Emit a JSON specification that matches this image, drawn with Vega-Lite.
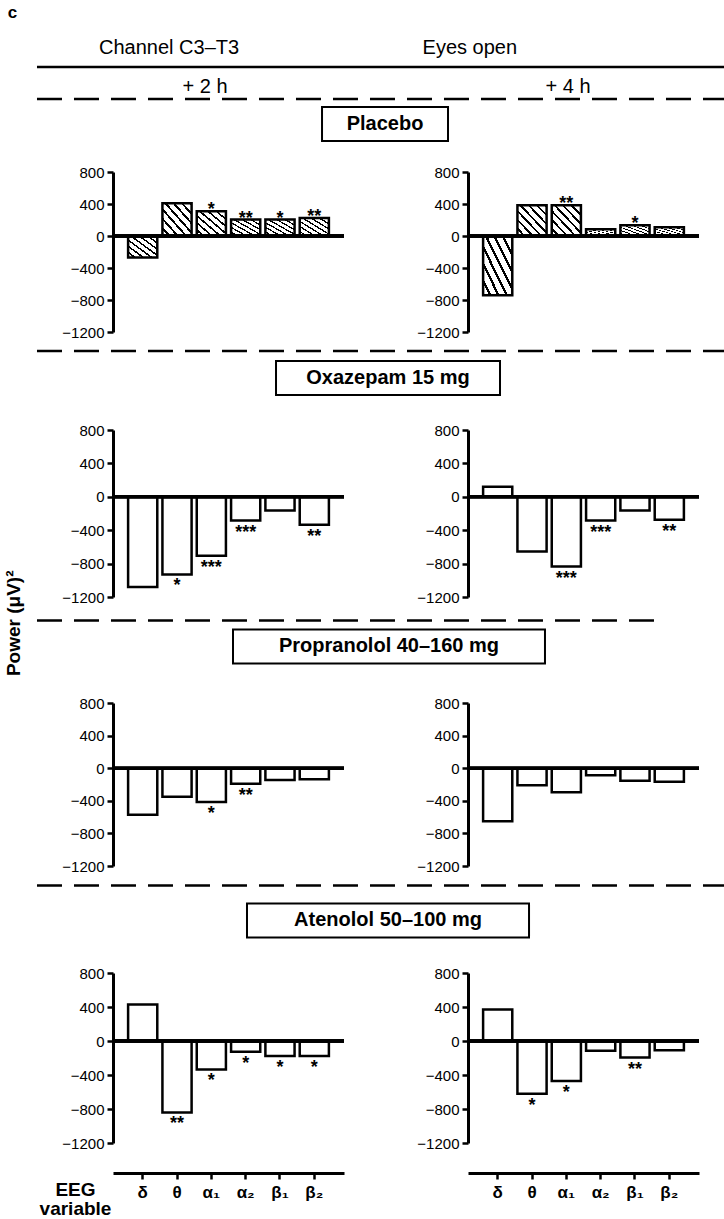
{
"$schema": "https://vega.github.io/schema/vega-lite/v6.json",
"padding": 0,
"background": "white",
"config": {
  "font": "Liberation Sans",
  "view": {"stroke": null},
  "axis": {"domainColor": "black", "tickColor": "black", "labelColor": "black", "titleColor": "black", "grid": false, "labelFont": "Liberation Sans", "titleFont": "Liberation Sans"},
  "axisY": {"domainWidth": 3, "tickWidth": 2.5, "tickSize": 6, "labelFontSize": 15, "labelPadding": 3, "minExtent": 83, "maxExtent": 83}
},
"datasets": {"bars": [
  {"drug": "Placebo", "time": "+2 h", "band": "δ", "value": -270, "sig": ""},
  {"drug": "Placebo", "time": "+2 h", "band": "θ", "value": 410, "sig": ""},
  {"drug": "Placebo", "time": "+2 h", "band": "α₁", "value": 310, "sig": "*"},
  {"drug": "Placebo", "time": "+2 h", "band": "α₂", "value": 205, "sig": "**"},
  {"drug": "Placebo", "time": "+2 h", "band": "β₁", "value": 205, "sig": "*"},
  {"drug": "Placebo", "time": "+2 h", "band": "β₂", "value": 225, "sig": "**"},
  {"drug": "Placebo", "time": "+4 h", "band": "δ", "value": -740, "sig": ""},
  {"drug": "Placebo", "time": "+4 h", "band": "θ", "value": 385, "sig": ""},
  {"drug": "Placebo", "time": "+4 h", "band": "α₁", "value": 385, "sig": "**"},
  {"drug": "Placebo", "time": "+4 h", "band": "α₂", "value": 85, "sig": ""},
  {"drug": "Placebo", "time": "+4 h", "band": "β₁", "value": 135, "sig": "*"},
  {"drug": "Placebo", "time": "+4 h", "band": "β₂", "value": 110, "sig": ""},
  {"drug": "Oxazepam 15 mg", "time": "+2 h", "band": "δ", "value": -1080, "sig": ""},
  {"drug": "Oxazepam 15 mg", "time": "+2 h", "band": "θ", "value": -930, "sig": "*"},
  {"drug": "Oxazepam 15 mg", "time": "+2 h", "band": "α₁", "value": -705, "sig": "***"},
  {"drug": "Oxazepam 15 mg", "time": "+2 h", "band": "α₂", "value": -285, "sig": "***"},
  {"drug": "Oxazepam 15 mg", "time": "+2 h", "band": "β₁", "value": -165, "sig": ""},
  {"drug": "Oxazepam 15 mg", "time": "+2 h", "band": "β₂", "value": -335, "sig": "**"},
  {"drug": "Oxazepam 15 mg", "time": "+4 h", "band": "δ", "value": 120, "sig": ""},
  {"drug": "Oxazepam 15 mg", "time": "+4 h", "band": "θ", "value": -655, "sig": ""},
  {"drug": "Oxazepam 15 mg", "time": "+4 h", "band": "α₁", "value": -835, "sig": "***"},
  {"drug": "Oxazepam 15 mg", "time": "+4 h", "band": "α₂", "value": -285, "sig": "***"},
  {"drug": "Oxazepam 15 mg", "time": "+4 h", "band": "β₁", "value": -165, "sig": ""},
  {"drug": "Oxazepam 15 mg", "time": "+4 h", "band": "β₂", "value": -275, "sig": "**"},
  {"drug": "Propranolol 40–160 mg", "time": "+2 h", "band": "δ", "value": -570, "sig": ""},
  {"drug": "Propranolol 40–160 mg", "time": "+2 h", "band": "θ", "value": -350, "sig": ""},
  {"drug": "Propranolol 40–160 mg", "time": "+2 h", "band": "α₁", "value": -415, "sig": "*"},
  {"drug": "Propranolol 40–160 mg", "time": "+2 h", "band": "α₂", "value": -190, "sig": "**"},
  {"drug": "Propranolol 40–160 mg", "time": "+2 h", "band": "β₁", "value": -145, "sig": ""},
  {"drug": "Propranolol 40–160 mg", "time": "+2 h", "band": "β₂", "value": -135, "sig": ""},
  {"drug": "Propranolol 40–160 mg", "time": "+4 h", "band": "δ", "value": -650, "sig": ""},
  {"drug": "Propranolol 40–160 mg", "time": "+4 h", "band": "θ", "value": -210, "sig": ""},
  {"drug": "Propranolol 40–160 mg", "time": "+4 h", "band": "α₁", "value": -295, "sig": ""},
  {"drug": "Propranolol 40–160 mg", "time": "+4 h", "band": "α₂", "value": -85, "sig": ""},
  {"drug": "Propranolol 40–160 mg", "time": "+4 h", "band": "β₁", "value": -155, "sig": ""},
  {"drug": "Propranolol 40–160 mg", "time": "+4 h", "band": "β₂", "value": -165, "sig": ""},
  {"drug": "Atenolol 50–100 mg", "time": "+2 h", "band": "δ", "value": 430, "sig": ""},
  {"drug": "Atenolol 50–100 mg", "time": "+2 h", "band": "θ", "value": -840, "sig": "**"},
  {"drug": "Atenolol 50–100 mg", "time": "+2 h", "band": "α₁", "value": -335, "sig": "*"},
  {"drug": "Atenolol 50–100 mg", "time": "+2 h", "band": "α₂", "value": -125, "sig": "*"},
  {"drug": "Atenolol 50–100 mg", "time": "+2 h", "band": "β₁", "value": -175, "sig": "*"},
  {"drug": "Atenolol 50–100 mg", "time": "+2 h", "band": "β₂", "value": -175, "sig": "*"},
  {"drug": "Atenolol 50–100 mg", "time": "+4 h", "band": "δ", "value": 370, "sig": ""},
  {"drug": "Atenolol 50–100 mg", "time": "+4 h", "band": "θ", "value": -620, "sig": "*"},
  {"drug": "Atenolol 50–100 mg", "time": "+4 h", "band": "α₁", "value": -470, "sig": "*"},
  {"drug": "Atenolol 50–100 mg", "time": "+4 h", "band": "α₂", "value": -115, "sig": ""},
  {"drug": "Atenolol 50–100 mg", "time": "+4 h", "band": "β₁", "value": -195, "sig": "**"},
  {"drug": "Atenolol 50–100 mg", "time": "+4 h", "band": "β₂", "value": -110, "sig": ""}
]},
"spacing": 0,
"hconcat": [
  {"width": 30, "height": 1215, "data": {"values": [{}]},
   "layer": [
    {"mark": {"type": "text", "text": "c", "fontSize": 17, "fontWeight": "bold", "align": "center", "baseline": "middle"},
     "encoding": {"x": {"datum": 41.7, "type": "quantitative", "scale": {"domain": [0, 100]}, "axis": null},
                  "y": {"datum": 1.07, "type": "quantitative", "scale": {"domain": [0, 100], "reverse": true}, "axis": null}}},
    {"mark": {"type": "text", "text": "Power (μV)²", "fontSize": 19, "fontWeight": "bold", "angle": 270, "align": "center", "baseline": "middle"},
     "encoding": {"x": {"datum": 46.7, "type": "quantitative", "scale": {"domain": [0, 100]}, "axis": null},
                  "y": {"datum": 51.3, "type": "quantitative", "scale": {"domain": [0, 100], "reverse": true}, "axis": null}}}
   ]},
  {"spacing": 0,
   "vconcat": [
    {"width": 611, "height": 165, "data": {"values": [{}]},
     "layer": [
      {"mark": {"type": "text", "text": "Channel C3–T3", "fontSize": 20, "align": "left", "baseline": "middle"},
       "encoding": {"x": {"datum": -2.29, "type": "quantitative", "scale": {"domain": [0, 100]}, "axis": null},
                    "y": {"datum": 29.1, "type": "quantitative", "scale": {"domain": [0, 100], "reverse": true}, "axis": null}}},
      {"mark": {"type": "text", "text": "Eyes open", "fontSize": 20, "align": "center", "baseline": "middle"},
       "encoding": {"x": {"datum": 58.4, "type": "quantitative", "scale": {"domain": [0, 100]}, "axis": null},
                    "y": {"datum": 29.1, "type": "quantitative", "scale": {"domain": [0, 100], "reverse": true}, "axis": null}}},
      {"mark": {"type": "rule", "color": "black", "strokeWidth": 2.5},
       "encoding": {"x": {"datum": -12.44, "type": "quantitative", "scale": {"domain": [0, 100]}, "axis": null}, "x2": {"datum": 100},
                    "y": {"datum": 40.6, "type": "quantitative", "scale": {"domain": [0, 100], "reverse": true}, "axis": null}}},
      {"mark": {"type": "text", "text": "+ 2 h", "fontSize": 20, "align": "center", "baseline": "middle"},
       "encoding": {"x": {"datum": 15.06, "type": "quantitative", "scale": {"domain": [0, 100]}, "axis": null},
                    "y": {"datum": 52.7, "type": "quantitative", "scale": {"domain": [0, 100], "reverse": true}, "axis": null}}},
      {"mark": {"type": "text", "text": "+ 4 h", "fontSize": 20, "align": "center", "baseline": "middle"},
       "encoding": {"x": {"datum": 74.47, "type": "quantitative", "scale": {"domain": [0, 100]}, "axis": null},
                    "y": {"datum": 52.7, "type": "quantitative", "scale": {"domain": [0, 100], "reverse": true}, "axis": null}}},
      {"mark": {"type": "rule", "color": "black", "strokeWidth": 2.5, "strokeDash": [25, 12]},
       "encoding": {"x": {"datum": -12.44, "type": "quantitative", "scale": {"domain": [0, 100]}, "axis": null}, "x2": {"datum": 100},
                    "y": {"datum": 60.0, "type": "quantitative", "scale": {"domain": [0, 100], "reverse": true}, "axis": null}}},
      {"mark": {"type": "rect", "fill": "white", "stroke": "black", "strokeWidth": 2},
       "encoding": {"x": {"datum": 34.21, "type": "quantitative", "scale": {"domain": [0, 100]}, "axis": null}, "x2": {"datum": 54.83},
                    "y": {"datum": 64.8, "type": "quantitative", "scale": {"domain": [0, 100], "reverse": true}, "axis": null}, "y2": {"datum": 85.5}}},
      {"mark": {"type": "text", "text": "Placebo", "fontSize": 20, "fontWeight": "bold", "align": "center", "baseline": "middle"},
       "encoding": {"x": {"datum": 44.52, "type": "quantitative", "scale": {"domain": [0, 100]}, "axis": null},
                    "y": {"datum": 75.2, "type": "quantitative", "scale": {"domain": [0, 100], "reverse": true}, "axis": null}}}
     ]},
    {"spacing": 39,
     "hconcat": [
      {"width": 231, "height": 160, "data": {"name": "bars"},
       "transform": [{"filter": {"and": [{"field": "drug", "equal": "Placebo"}, {"field": "time", "equal": "+2 h"}]}}],
       "layer": [
        {"mark": {"type": "bar", "stroke": "black", "strokeWidth": 2.5, "fill": {"gradient": "linear", "x1": 0, "y1": 1, "x2": 1, "y2": 0, "stops": [{"offset": 0, "color": "white"}, {"offset": 0.1, "color": "white"}, {"offset": 0.1, "color": "black"}, {"offset": 0.1429, "color": "black"}, {"offset": 0.1429, "color": "white"}, {"offset": 0.2429, "color": "white"}, {"offset": 0.2429, "color": "black"}, {"offset": 0.2857, "color": "black"}, {"offset": 0.2857, "color": "white"}, {"offset": 0.3857, "color": "white"}, {"offset": 0.3857, "color": "black"}, {"offset": 0.4286, "color": "black"}, {"offset": 0.4286, "color": "white"}, {"offset": 0.5286, "color": "white"}, {"offset": 0.5286, "color": "black"}, {"offset": 0.5714, "color": "black"}, {"offset": 0.5714, "color": "white"}, {"offset": 0.6714, "color": "white"}, {"offset": 0.6714, "color": "black"}, {"offset": 0.7143, "color": "black"}, {"offset": 0.7143, "color": "white"}, {"offset": 0.8143, "color": "white"}, {"offset": 0.8143, "color": "black"}, {"offset": 0.8571, "color": "black"}, {"offset": 0.8571, "color": "white"}, {"offset": 0.9571, "color": "white"}, {"offset": 0.9571, "color": "black"}, {"offset": 1, "color": "black"}]}},
         "encoding": {
          "x": {"field": "band", "type": "nominal", "scale": {"domain": ["δ", "θ", "α₁", "α₂", "β₁", "β₂"], "paddingInner": 0.15, "paddingOuter": 0.44}, "axis": null},
          "y": {"field": "value", "type": "quantitative", "scale": {"domain": [-1200, 800], "nice": false, "zero": false}, "axis": {"values": [800, 400, 0, -400, -800, -1200], "format": "d", "title": null}},
          "y2": {"datum": 0}}},
        {"mark": {"type": "rule", "color": "black", "strokeWidth": 3},
         "encoding": {"y": {"datum": 0, "type": "quantitative", "scale": {"domain": [-1200, 800], "nice": false, "zero": false}, "axis": {"values": [800, 400, 0, -400, -800, -1200], "format": "d", "title": null}}}},
        {"transform": [{"filter": {"and": [{"field": "value", "gte": 0}, {"field": "sig", "oneOf": ["*", "**", "***"]}]}}],
         "mark": {"type": "text", "baseline": "alphabetic", "dy": 4, "fontSize": 18, "fontWeight": "bold"},
         "encoding": {
          "x": {"field": "band", "type": "nominal", "scale": {"domain": ["δ", "θ", "α₁", "α₂", "β₁", "β₂"], "paddingInner": 0.15, "paddingOuter": 0.44}, "axis": null},
          "y": {"field": "value", "type": "quantitative", "scale": {"domain": [-1200, 800], "nice": false, "zero": false}, "axis": {"values": [800, 400, 0, -400, -800, -1200], "format": "d", "title": null}},
          "text": {"field": "sig"}}},
        {"transform": [{"filter": {"and": [{"field": "value", "lt": 0}, {"field": "sig", "oneOf": ["*", "**", "***"]}]}}],
         "mark": {"type": "text", "baseline": "alphabetic", "dy": 17, "fontSize": 18, "fontWeight": "bold"},
         "encoding": {
          "x": {"field": "band", "type": "nominal", "scale": {"domain": ["δ", "θ", "α₁", "α₂", "β₁", "β₂"], "paddingInner": 0.15, "paddingOuter": 0.44}, "axis": null},
          "y": {"field": "value", "type": "quantitative", "scale": {"domain": [-1200, 800], "nice": false, "zero": false}, "axis": {"values": [800, 400, 0, -400, -800, -1200], "format": "d", "title": null}},
          "text": {"field": "sig"}}}
       ]},
      {"width": 231, "height": 160, "data": {"name": "bars"},
       "transform": [{"filter": {"and": [{"field": "drug", "equal": "Placebo"}, {"field": "time", "equal": "+4 h"}]}}],
       "layer": [
        {"mark": {"type": "bar", "stroke": "black", "strokeWidth": 2.5, "fill": {"gradient": "linear", "x1": 0, "y1": 1, "x2": 1, "y2": 0, "stops": [{"offset": 0, "color": "white"}, {"offset": 0.1, "color": "white"}, {"offset": 0.1, "color": "black"}, {"offset": 0.1429, "color": "black"}, {"offset": 0.1429, "color": "white"}, {"offset": 0.2429, "color": "white"}, {"offset": 0.2429, "color": "black"}, {"offset": 0.2857, "color": "black"}, {"offset": 0.2857, "color": "white"}, {"offset": 0.3857, "color": "white"}, {"offset": 0.3857, "color": "black"}, {"offset": 0.4286, "color": "black"}, {"offset": 0.4286, "color": "white"}, {"offset": 0.5286, "color": "white"}, {"offset": 0.5286, "color": "black"}, {"offset": 0.5714, "color": "black"}, {"offset": 0.5714, "color": "white"}, {"offset": 0.6714, "color": "white"}, {"offset": 0.6714, "color": "black"}, {"offset": 0.7143, "color": "black"}, {"offset": 0.7143, "color": "white"}, {"offset": 0.8143, "color": "white"}, {"offset": 0.8143, "color": "black"}, {"offset": 0.8571, "color": "black"}, {"offset": 0.8571, "color": "white"}, {"offset": 0.9571, "color": "white"}, {"offset": 0.9571, "color": "black"}, {"offset": 1, "color": "black"}]}},
         "encoding": {
          "x": {"field": "band", "type": "nominal", "scale": {"domain": ["δ", "θ", "α₁", "α₂", "β₁", "β₂"], "paddingInner": 0.15, "paddingOuter": 0.44}, "axis": null},
          "y": {"field": "value", "type": "quantitative", "scale": {"domain": [-1200, 800], "nice": false, "zero": false}, "axis": {"values": [800, 400, 0, -400, -800, -1200], "format": "d", "title": null}},
          "y2": {"datum": 0}}},
        {"mark": {"type": "rule", "color": "black", "strokeWidth": 3},
         "encoding": {"y": {"datum": 0, "type": "quantitative", "scale": {"domain": [-1200, 800], "nice": false, "zero": false}, "axis": {"values": [800, 400, 0, -400, -800, -1200], "format": "d", "title": null}}}},
        {"transform": [{"filter": {"and": [{"field": "value", "gte": 0}, {"field": "sig", "oneOf": ["*", "**", "***"]}]}}],
         "mark": {"type": "text", "baseline": "alphabetic", "dy": 4, "fontSize": 18, "fontWeight": "bold"},
         "encoding": {
          "x": {"field": "band", "type": "nominal", "scale": {"domain": ["δ", "θ", "α₁", "α₂", "β₁", "β₂"], "paddingInner": 0.15, "paddingOuter": 0.44}, "axis": null},
          "y": {"field": "value", "type": "quantitative", "scale": {"domain": [-1200, 800], "nice": false, "zero": false}, "axis": {"values": [800, 400, 0, -400, -800, -1200], "format": "d", "title": null}},
          "text": {"field": "sig"}}},
        {"transform": [{"filter": {"and": [{"field": "value", "lt": 0}, {"field": "sig", "oneOf": ["*", "**", "***"]}]}}],
         "mark": {"type": "text", "baseline": "alphabetic", "dy": 17, "fontSize": 18, "fontWeight": "bold"},
         "encoding": {
          "x": {"field": "band", "type": "nominal", "scale": {"domain": ["δ", "θ", "α₁", "α₂", "β₁", "β₂"], "paddingInner": 0.15, "paddingOuter": 0.44}, "axis": null},
          "y": {"field": "value", "type": "quantitative", "scale": {"domain": [-1200, 800], "nice": false, "zero": false}, "axis": {"values": [800, 400, 0, -400, -800, -1200], "format": "d", "title": null}},
          "text": {"field": "sig"}}}
       ]}
     ]},
    {"width": 611, "height": 82.5, "data": {"values": [{}]},
     "layer": [
      {"mark": {"type": "rule", "color": "black", "strokeWidth": 2.5, "strokeDash": [25, 12]},
       "encoding": {"x": {"datum": -12.44, "type": "quantitative", "scale": {"domain": [0, 100]}, "axis": null}, "x2": {"datum": 100},
                    "y": {"datum": 13.3, "type": "quantitative", "scale": {"domain": [0, 100], "reverse": true}, "axis": null}}},
      {"mark": {"type": "rect", "fill": "white", "stroke": "black", "strokeWidth": 2},
       "encoding": {"x": {"datum": 26.68, "type": "quantitative", "scale": {"domain": [0, 100]}, "axis": null}, "x2": {"datum": 63.34},
                    "y": {"datum": 25.5, "type": "quantitative", "scale": {"domain": [0, 100], "reverse": true}, "axis": null}, "y2": {"datum": 66.7}}},
      {"mark": {"type": "text", "text": "Oxazepam 15 mg", "fontSize": 20, "fontWeight": "bold", "align": "center", "baseline": "middle"},
       "encoding": {"x": {"datum": 45.01, "type": "quantitative", "scale": {"domain": [0, 100]}, "axis": null},
                    "y": {"datum": 46.1, "type": "quantitative", "scale": {"domain": [0, 100], "reverse": true}, "axis": null}}}
     ]},
    {"spacing": 39,
     "hconcat": [
      {"width": 231, "height": 167, "data": {"name": "bars"},
       "transform": [{"filter": {"and": [{"field": "drug", "equal": "Oxazepam 15 mg"}, {"field": "time", "equal": "+2 h"}]}}],
       "layer": [
        {"mark": {"type": "bar", "stroke": "black", "strokeWidth": 2.5, "fill": "white"},
         "encoding": {
          "x": {"field": "band", "type": "nominal", "scale": {"domain": ["δ", "θ", "α₁", "α₂", "β₁", "β₂"], "paddingInner": 0.15, "paddingOuter": 0.44}, "axis": null},
          "y": {"field": "value", "type": "quantitative", "scale": {"domain": [-1200, 800], "nice": false, "zero": false}, "axis": {"values": [800, 400, 0, -400, -800, -1200], "format": "d", "title": null}},
          "y2": {"datum": 0}}},
        {"mark": {"type": "rule", "color": "black", "strokeWidth": 3},
         "encoding": {"y": {"datum": 0, "type": "quantitative", "scale": {"domain": [-1200, 800], "nice": false, "zero": false}, "axis": {"values": [800, 400, 0, -400, -800, -1200], "format": "d", "title": null}}}},
        {"transform": [{"filter": {"and": [{"field": "value", "gte": 0}, {"field": "sig", "oneOf": ["*", "**", "***"]}]}}],
         "mark": {"type": "text", "baseline": "alphabetic", "dy": 4, "fontSize": 18, "fontWeight": "bold"},
         "encoding": {
          "x": {"field": "band", "type": "nominal", "scale": {"domain": ["δ", "θ", "α₁", "α₂", "β₁", "β₂"], "paddingInner": 0.15, "paddingOuter": 0.44}, "axis": null},
          "y": {"field": "value", "type": "quantitative", "scale": {"domain": [-1200, 800], "nice": false, "zero": false}, "axis": {"values": [800, 400, 0, -400, -800, -1200], "format": "d", "title": null}},
          "text": {"field": "sig"}}},
        {"transform": [{"filter": {"and": [{"field": "value", "lt": 0}, {"field": "sig", "oneOf": ["*", "**", "***"]}]}}],
         "mark": {"type": "text", "baseline": "alphabetic", "dy": 17, "fontSize": 18, "fontWeight": "bold"},
         "encoding": {
          "x": {"field": "band", "type": "nominal", "scale": {"domain": ["δ", "θ", "α₁", "α₂", "β₁", "β₂"], "paddingInner": 0.15, "paddingOuter": 0.44}, "axis": null},
          "y": {"field": "value", "type": "quantitative", "scale": {"domain": [-1200, 800], "nice": false, "zero": false}, "axis": {"values": [800, 400, 0, -400, -800, -1200], "format": "d", "title": null}},
          "text": {"field": "sig"}}}
       ]},
      {"width": 231, "height": 167, "data": {"name": "bars"},
       "transform": [{"filter": {"and": [{"field": "drug", "equal": "Oxazepam 15 mg"}, {"field": "time", "equal": "+4 h"}]}}],
       "layer": [
        {"mark": {"type": "bar", "stroke": "black", "strokeWidth": 2.5, "fill": "white"},
         "encoding": {
          "x": {"field": "band", "type": "nominal", "scale": {"domain": ["δ", "θ", "α₁", "α₂", "β₁", "β₂"], "paddingInner": 0.15, "paddingOuter": 0.44}, "axis": null},
          "y": {"field": "value", "type": "quantitative", "scale": {"domain": [-1200, 800], "nice": false, "zero": false}, "axis": {"values": [800, 400, 0, -400, -800, -1200], "format": "d", "title": null}},
          "y2": {"datum": 0}}},
        {"mark": {"type": "rule", "color": "black", "strokeWidth": 3},
         "encoding": {"y": {"datum": 0, "type": "quantitative", "scale": {"domain": [-1200, 800], "nice": false, "zero": false}, "axis": {"values": [800, 400, 0, -400, -800, -1200], "format": "d", "title": null}}}},
        {"transform": [{"filter": {"and": [{"field": "value", "gte": 0}, {"field": "sig", "oneOf": ["*", "**", "***"]}]}}],
         "mark": {"type": "text", "baseline": "alphabetic", "dy": 4, "fontSize": 18, "fontWeight": "bold"},
         "encoding": {
          "x": {"field": "band", "type": "nominal", "scale": {"domain": ["δ", "θ", "α₁", "α₂", "β₁", "β₂"], "paddingInner": 0.15, "paddingOuter": 0.44}, "axis": null},
          "y": {"field": "value", "type": "quantitative", "scale": {"domain": [-1200, 800], "nice": false, "zero": false}, "axis": {"values": [800, 400, 0, -400, -800, -1200], "format": "d", "title": null}},
          "text": {"field": "sig"}}},
        {"transform": [{"filter": {"and": [{"field": "value", "lt": 0}, {"field": "sig", "oneOf": ["*", "**", "***"]}]}}],
         "mark": {"type": "text", "baseline": "alphabetic", "dy": 17, "fontSize": 18, "fontWeight": "bold"},
         "encoding": {
          "x": {"field": "band", "type": "nominal", "scale": {"domain": ["δ", "θ", "α₁", "α₂", "β₁", "β₂"], "paddingInner": 0.15, "paddingOuter": 0.44}, "axis": null},
          "y": {"field": "value", "type": "quantitative", "scale": {"domain": [-1200, 800], "nice": false, "zero": false}, "axis": {"values": [800, 400, 0, -400, -800, -1200], "format": "d", "title": null}},
          "text": {"field": "sig"}}}
       ]}
     ]},
    {"width": 611, "height": 91, "data": {"values": [{}]},
     "layer": [
      {"mark": {"type": "rule", "color": "black", "strokeWidth": 2.5, "strokeDash": [25, 12]},
       "encoding": {"x": {"datum": -12.44, "type": "quantitative", "scale": {"domain": [0, 100]}, "axis": null}, "x2": {"datum": 89.2},
                    "y": {"datum": 17.0, "type": "quantitative", "scale": {"domain": [0, 100], "reverse": true}, "axis": null}}},
      {"mark": {"type": "rect", "fill": "white", "stroke": "black", "strokeWidth": 2},
       "encoding": {"x": {"datum": 19.64, "type": "quantitative", "scale": {"domain": [0, 100]}, "axis": null}, "x2": {"datum": 70.7},
                    "y": {"datum": 26.9, "type": "quantitative", "scale": {"domain": [0, 100], "reverse": true}, "axis": null}, "y2": {"datum": 64.3}}},
      {"mark": {"type": "text", "text": "Propranolol 40–160 mg", "fontSize": 20, "fontWeight": "bold", "align": "center", "baseline": "middle"},
       "encoding": {"x": {"datum": 45.17, "type": "quantitative", "scale": {"domain": [0, 100]}, "axis": null},
                    "y": {"datum": 45.6, "type": "quantitative", "scale": {"domain": [0, 100], "reverse": true}, "axis": null}}}
     ]},
    {"spacing": 39,
     "hconcat": [
      {"width": 231, "height": 163, "data": {"name": "bars"},
       "transform": [{"filter": {"and": [{"field": "drug", "equal": "Propranolol 40–160 mg"}, {"field": "time", "equal": "+2 h"}]}}],
       "layer": [
        {"mark": {"type": "bar", "stroke": "black", "strokeWidth": 2.5, "fill": "white"},
         "encoding": {
          "x": {"field": "band", "type": "nominal", "scale": {"domain": ["δ", "θ", "α₁", "α₂", "β₁", "β₂"], "paddingInner": 0.15, "paddingOuter": 0.44}, "axis": null},
          "y": {"field": "value", "type": "quantitative", "scale": {"domain": [-1200, 800], "nice": false, "zero": false}, "axis": {"values": [800, 400, 0, -400, -800, -1200], "format": "d", "title": null}},
          "y2": {"datum": 0}}},
        {"mark": {"type": "rule", "color": "black", "strokeWidth": 3},
         "encoding": {"y": {"datum": 0, "type": "quantitative", "scale": {"domain": [-1200, 800], "nice": false, "zero": false}, "axis": {"values": [800, 400, 0, -400, -800, -1200], "format": "d", "title": null}}}},
        {"transform": [{"filter": {"and": [{"field": "value", "gte": 0}, {"field": "sig", "oneOf": ["*", "**", "***"]}]}}],
         "mark": {"type": "text", "baseline": "alphabetic", "dy": 4, "fontSize": 18, "fontWeight": "bold"},
         "encoding": {
          "x": {"field": "band", "type": "nominal", "scale": {"domain": ["δ", "θ", "α₁", "α₂", "β₁", "β₂"], "paddingInner": 0.15, "paddingOuter": 0.44}, "axis": null},
          "y": {"field": "value", "type": "quantitative", "scale": {"domain": [-1200, 800], "nice": false, "zero": false}, "axis": {"values": [800, 400, 0, -400, -800, -1200], "format": "d", "title": null}},
          "text": {"field": "sig"}}},
        {"transform": [{"filter": {"and": [{"field": "value", "lt": 0}, {"field": "sig", "oneOf": ["*", "**", "***"]}]}}],
         "mark": {"type": "text", "baseline": "alphabetic", "dy": 17, "fontSize": 18, "fontWeight": "bold"},
         "encoding": {
          "x": {"field": "band", "type": "nominal", "scale": {"domain": ["δ", "θ", "α₁", "α₂", "β₁", "β₂"], "paddingInner": 0.15, "paddingOuter": 0.44}, "axis": null},
          "y": {"field": "value", "type": "quantitative", "scale": {"domain": [-1200, 800], "nice": false, "zero": false}, "axis": {"values": [800, 400, 0, -400, -800, -1200], "format": "d", "title": null}},
          "text": {"field": "sig"}}}
       ]},
      {"width": 231, "height": 163, "data": {"name": "bars"},
       "transform": [{"filter": {"and": [{"field": "drug", "equal": "Propranolol 40–160 mg"}, {"field": "time", "equal": "+4 h"}]}}],
       "layer": [
        {"mark": {"type": "bar", "stroke": "black", "strokeWidth": 2.5, "fill": "white"},
         "encoding": {
          "x": {"field": "band", "type": "nominal", "scale": {"domain": ["δ", "θ", "α₁", "α₂", "β₁", "β₂"], "paddingInner": 0.15, "paddingOuter": 0.44}, "axis": null},
          "y": {"field": "value", "type": "quantitative", "scale": {"domain": [-1200, 800], "nice": false, "zero": false}, "axis": {"values": [800, 400, 0, -400, -800, -1200], "format": "d", "title": null}},
          "y2": {"datum": 0}}},
        {"mark": {"type": "rule", "color": "black", "strokeWidth": 3},
         "encoding": {"y": {"datum": 0, "type": "quantitative", "scale": {"domain": [-1200, 800], "nice": false, "zero": false}, "axis": {"values": [800, 400, 0, -400, -800, -1200], "format": "d", "title": null}}}}
       ]}
     ]},
    {"width": 611, "height": 92, "data": {"values": [{}]},
     "layer": [
      {"mark": {"type": "rule", "color": "black", "strokeWidth": 2.5, "strokeDash": [25, 12]},
       "encoding": {"x": {"datum": -12.44, "type": "quantitative", "scale": {"domain": [0, 100]}, "axis": null}, "x2": {"datum": 100},
                    "y": {"datum": 12.5, "type": "quantitative", "scale": {"domain": [0, 100], "reverse": true}, "axis": null}}},
      {"mark": {"type": "rect", "fill": "white", "stroke": "black", "strokeWidth": 2},
       "encoding": {"x": {"datum": 21.93, "type": "quantitative", "scale": {"domain": [0, 100]}, "axis": null}, "x2": {"datum": 68.09},
                    "y": {"datum": 32.1, "type": "quantitative", "scale": {"domain": [0, 100], "reverse": true}, "axis": null}, "y2": {"datum": 69.0}}},
      {"mark": {"type": "text", "text": "Atenolol 50–100 mg", "fontSize": 20, "fontWeight": "bold", "align": "center", "baseline": "middle"},
       "encoding": {"x": {"datum": 45.01, "type": "quantitative", "scale": {"domain": [0, 100]}, "axis": null},
                    "y": {"datum": 50.5, "type": "quantitative", "scale": {"domain": [0, 100], "reverse": true}, "axis": null}}}
     ]},
    {"spacing": 39,
     "hconcat": [
      {"width": 231, "height": 170, "data": {"name": "bars"},
       "transform": [{"filter": {"and": [{"field": "drug", "equal": "Atenolol 50–100 mg"}, {"field": "time", "equal": "+2 h"}]}}],
       "layer": [
        {"mark": {"type": "bar", "stroke": "black", "strokeWidth": 2.5, "fill": "white"},
         "encoding": {
          "x": {"field": "band", "type": "nominal", "scale": {"domain": ["δ", "θ", "α₁", "α₂", "β₁", "β₂"], "paddingInner": 0.15, "paddingOuter": 0.44}, "axis": {"orient": "bottom", "offset": 30, "title": ["EEG", "variable"], "titleX": -38, "titleY": 7, "titleAlign": "center", "titleBaseline": "top", "titleAngle": 0, "titleFontSize": 19, "titleFontWeight": "bold", "titleLineHeight": 19, "labelFontSize": 17, "labelFontWeight": "bold", "labelPadding": 5, "labelAngle": 0, "domainWidth": 3, "tickWidth": 2.5, "tickSize": 6}},
          "y": {"field": "value", "type": "quantitative", "scale": {"domain": [-1200, 800], "nice": false, "zero": false}, "axis": {"values": [800, 400, 0, -400, -800, -1200], "format": "d", "title": null}},
          "y2": {"datum": 0}}},
        {"mark": {"type": "rule", "color": "black", "strokeWidth": 3},
         "encoding": {"y": {"datum": 0, "type": "quantitative", "scale": {"domain": [-1200, 800], "nice": false, "zero": false}, "axis": {"values": [800, 400, 0, -400, -800, -1200], "format": "d", "title": null}}}},
        {"transform": [{"filter": {"and": [{"field": "value", "gte": 0}, {"field": "sig", "oneOf": ["*", "**", "***"]}]}}],
         "mark": {"type": "text", "baseline": "alphabetic", "dy": 4, "fontSize": 18, "fontWeight": "bold"},
         "encoding": {
          "x": {"field": "band", "type": "nominal", "scale": {"domain": ["δ", "θ", "α₁", "α₂", "β₁", "β₂"], "paddingInner": 0.15, "paddingOuter": 0.44}, "axis": {"orient": "bottom", "offset": 30, "title": ["EEG", "variable"], "titleX": -38, "titleY": 7, "titleAlign": "center", "titleBaseline": "top", "titleAngle": 0, "titleFontSize": 19, "titleFontWeight": "bold", "titleLineHeight": 19, "labelFontSize": 17, "labelFontWeight": "bold", "labelPadding": 5, "labelAngle": 0, "domainWidth": 3, "tickWidth": 2.5, "tickSize": 6}},
          "y": {"field": "value", "type": "quantitative", "scale": {"domain": [-1200, 800], "nice": false, "zero": false}, "axis": {"values": [800, 400, 0, -400, -800, -1200], "format": "d", "title": null}},
          "text": {"field": "sig"}}},
        {"transform": [{"filter": {"and": [{"field": "value", "lt": 0}, {"field": "sig", "oneOf": ["*", "**", "***"]}]}}],
         "mark": {"type": "text", "baseline": "alphabetic", "dy": 17, "fontSize": 18, "fontWeight": "bold"},
         "encoding": {
          "x": {"field": "band", "type": "nominal", "scale": {"domain": ["δ", "θ", "α₁", "α₂", "β₁", "β₂"], "paddingInner": 0.15, "paddingOuter": 0.44}, "axis": {"orient": "bottom", "offset": 30, "title": ["EEG", "variable"], "titleX": -38, "titleY": 7, "titleAlign": "center", "titleBaseline": "top", "titleAngle": 0, "titleFontSize": 19, "titleFontWeight": "bold", "titleLineHeight": 19, "labelFontSize": 17, "labelFontWeight": "bold", "labelPadding": 5, "labelAngle": 0, "domainWidth": 3, "tickWidth": 2.5, "tickSize": 6}},
          "y": {"field": "value", "type": "quantitative", "scale": {"domain": [-1200, 800], "nice": false, "zero": false}, "axis": {"values": [800, 400, 0, -400, -800, -1200], "format": "d", "title": null}},
          "text": {"field": "sig"}}}
       ]},
      {"width": 231, "height": 170, "data": {"name": "bars"},
       "transform": [{"filter": {"and": [{"field": "drug", "equal": "Atenolol 50–100 mg"}, {"field": "time", "equal": "+4 h"}]}}],
       "layer": [
        {"mark": {"type": "bar", "stroke": "black", "strokeWidth": 2.5, "fill": "white"},
         "encoding": {
          "x": {"field": "band", "type": "nominal", "scale": {"domain": ["δ", "θ", "α₁", "α₂", "β₁", "β₂"], "paddingInner": 0.15, "paddingOuter": 0.44}, "axis": {"orient": "bottom", "offset": 30, "title": null, "labelFontSize": 17, "labelFontWeight": "bold", "labelPadding": 5, "labelAngle": 0, "domainWidth": 3, "tickWidth": 2.5, "tickSize": 6}},
          "y": {"field": "value", "type": "quantitative", "scale": {"domain": [-1200, 800], "nice": false, "zero": false}, "axis": {"values": [800, 400, 0, -400, -800, -1200], "format": "d", "title": null}},
          "y2": {"datum": 0}}},
        {"mark": {"type": "rule", "color": "black", "strokeWidth": 3},
         "encoding": {"y": {"datum": 0, "type": "quantitative", "scale": {"domain": [-1200, 800], "nice": false, "zero": false}, "axis": {"values": [800, 400, 0, -400, -800, -1200], "format": "d", "title": null}}}},
        {"transform": [{"filter": {"and": [{"field": "value", "gte": 0}, {"field": "sig", "oneOf": ["*", "**", "***"]}]}}],
         "mark": {"type": "text", "baseline": "alphabetic", "dy": 4, "fontSize": 18, "fontWeight": "bold"},
         "encoding": {
          "x": {"field": "band", "type": "nominal", "scale": {"domain": ["δ", "θ", "α₁", "α₂", "β₁", "β₂"], "paddingInner": 0.15, "paddingOuter": 0.44}, "axis": {"orient": "bottom", "offset": 30, "title": null, "labelFontSize": 17, "labelFontWeight": "bold", "labelPadding": 5, "labelAngle": 0, "domainWidth": 3, "tickWidth": 2.5, "tickSize": 6}},
          "y": {"field": "value", "type": "quantitative", "scale": {"domain": [-1200, 800], "nice": false, "zero": false}, "axis": {"values": [800, 400, 0, -400, -800, -1200], "format": "d", "title": null}},
          "text": {"field": "sig"}}},
        {"transform": [{"filter": {"and": [{"field": "value", "lt": 0}, {"field": "sig", "oneOf": ["*", "**", "***"]}]}}],
         "mark": {"type": "text", "baseline": "alphabetic", "dy": 17, "fontSize": 18, "fontWeight": "bold"},
         "encoding": {
          "x": {"field": "band", "type": "nominal", "scale": {"domain": ["δ", "θ", "α₁", "α₂", "β₁", "β₂"], "paddingInner": 0.15, "paddingOuter": 0.44}, "axis": {"orient": "bottom", "offset": 30, "title": null, "labelFontSize": 17, "labelFontWeight": "bold", "labelPadding": 5, "labelAngle": 0, "domainWidth": 3, "tickWidth": 2.5, "tickSize": 6}},
          "y": {"field": "value", "type": "quantitative", "scale": {"domain": [-1200, 800], "nice": false, "zero": false}, "axis": {"values": [800, 400, 0, -400, -800, -1200], "format": "d", "title": null}},
          "text": {"field": "sig"}}}
       ]}
     ]}
   ]}
]
}
